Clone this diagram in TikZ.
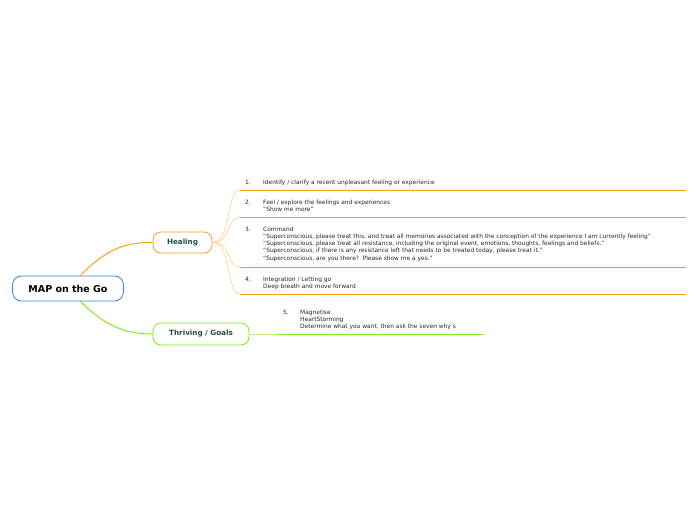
\documentclass[tikz,border=0pt]{standalone}
\usepackage{fontspec}
\setmainfont{DejaVu Sans}
\definecolor{org}{HTML}{F7A21B}
\definecolor{lorg}{HTML}{FAC87A}
\definecolor{grn}{HTML}{84E81C}
\definecolor{blu}{HTML}{2F88CE}
\definecolor{txt}{HTML}{1F4E3D}
\tikzset{
 topic/.style={draw,rounded corners=8pt,fill=white,line width=0.8pt,font=\fontsize{7.2}{8}\selectfont\bfseries,text=txt},
 item/.style={anchor=north west,align=left,inner sep=0pt,font=\fontsize{5.9}{7.1}\selectfont,text=black!85},
}
\begin{document}
\begin{tikzpicture}[x=1pt,y=-1pt]
\useasboundingbox (0,0) rectangle (696,520);
\node[draw=blu,rounded corners=9pt,line width=0.8pt,minimum width=111pt,minimum height=25pt,font=\fontsize{9.5}{11}\selectfont\bfseries] (root) at (68,288.5) {MAP on the Go};
\node[topic,draw=org,minimum width=59pt,minimum height=21pt] (heal) at (182.5,242.5) {Healing};
\node[topic,draw=grn,minimum width=96pt,minimum height=22pt] (thr) at (201,334) {Thriving / Goals};
\coordinate (r1) at (80,276); \coordinate (r2) at (80,301);
\draw[org,line width=1pt] (r1) .. controls (105,250) and (125,242) .. (heal.west);
\draw[grn,line width=1pt] (r2) .. controls (105,326) and (125,334) .. (thr.west);
% items
\foreach \n/\y in {1/190, 2/217, 3/267, 4/294}{
  \coordinate (a\n) at (240,\y); \coordinate (b\n) at (686,\y);
  \draw[org,line width=1pt] (a\n) -- (b\n);
  \draw[lorg,line width=0.5pt] (heal.east) .. controls (232,242) and (226,\y) .. (a\n);
}
\node[item] (n1) at (245,180) {1.};
\node[item] (t1) at (263,180) {Identify / clarify a recent unpleasant feeling or experience};
\node[item] (n2) at (245,200) {2.};
\node[item] (t2) at (263,200) {Feel / explore the feelings and experiences\\``Show me more''};
\node[item] (n3) at (245,227) {3.};
\node[item] (t3) at (263,227) {Command\\``Superconscious, please treat this, and treat all memories associated with the conception of the experience I am currently feeling''\\``Superconscious, please treat all resistance, including the original event, emotions, thoughts, feelings and beliefs.''\\``Superconscious, if there is any resistance left that needs to be treated today, please treat it.''\\``Superconscious, are you there?\ \ Please show me a yes.''};
\node[item] (n4) at (245,277) {4.};
\node[item] (t4) at (263,277) {Integration / Letting go\\Deep breath and move forward};
\coordinate (g1) at (278,334); \coordinate (g2) at (484,334);
\draw[grn!50,line width=0.6pt] (thr.east) -- (g1);
\draw[grn,line width=1pt] (g1) -- (g2);
\node[item] (n5) at (283,310) {5.};
\node[item] (t5) at (300,310) {Magnetise\\HeartStorming\\Determine what you want, then ask the seven why's};
\end{tikzpicture}
\end{document}
